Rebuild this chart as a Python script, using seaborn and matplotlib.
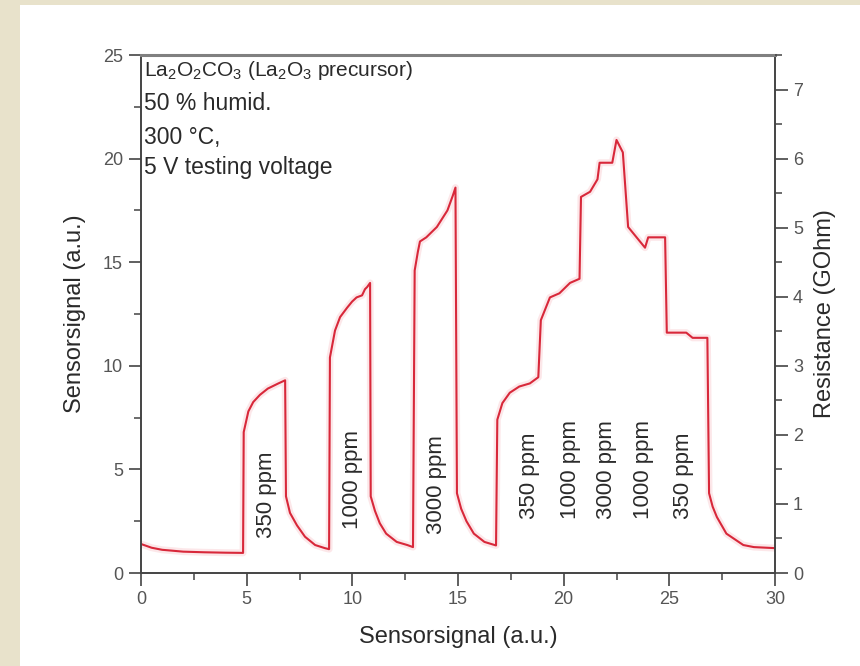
import matplotlib
matplotlib.use("Agg")
import matplotlib.pyplot as plt
from matplotlib.ticker import MultipleLocator
import seaborn as sns
import pandas as pd

# ---- data ----
time_x = [0, 0.5, 1.0, 2.0, 3.0, 4.0, 4.83,
          4.86, 5.08, 5.31, 5.63, 6.0, 6.5, 6.82,
          6.86, 7.05, 7.38, 7.76, 8.24, 8.7, 8.9,
          8.94, 9.18, 9.42, 9.75, 9.99, 10.2, 10.46, 10.6, 10.7, 10.84,
          10.87, 11.07, 11.3, 11.6, 12.1, 12.6, 12.87,
          12.95, 13.1, 13.2, 13.5, 14.0, 14.5, 14.75, 14.88,
          14.95, 15.15, 15.4, 15.75, 16.25, 16.8,
          16.86, 17.1, 17.45, 17.9, 18.4, 18.8,
          18.92, 19.35, 19.8, 20.3, 20.75,
          20.82, 21.25, 21.6, 21.7, 22.3, 22.5, 22.8,
          23.05, 23.45, 23.85, 24.0, 24.8,
          24.88, 25.8, 26.1, 26.8,
          26.88, 27.05, 27.25, 27.7, 28.5, 29.0, 30.0]
signal_y = [1.4, 1.22, 1.12, 1.03, 1.0, 0.98, 0.97,
            6.8, 7.8, 8.25, 8.6, 8.9, 9.15, 9.3,
            3.7, 2.9, 2.3, 1.75, 1.35, 1.2, 1.15,
            10.4, 11.7, 12.35, 12.8, 13.1, 13.3, 13.4, 13.7, 13.8, 14.0,
            3.7, 3.0, 2.4, 1.9, 1.5, 1.35, 1.25,
            14.6, 15.5, 16.0, 16.2, 16.7, 17.5, 18.2, 18.6,
            3.85, 3.1, 2.5, 1.9, 1.5, 1.33,
            7.4, 8.2, 8.7, 9.0, 9.15, 9.45,
            12.2, 13.3, 13.5, 14.0, 14.2,
            18.15, 18.4, 19.0, 19.8, 19.8, 20.9, 20.3,
            16.7, 16.2, 15.7, 16.2, 16.2,
            11.6, 11.6, 11.35, 11.35,
            3.85, 3.2, 2.7, 1.9, 1.35, 1.25, 1.2]

label_x = [5.96, 10.0, 14.0, 18.4, 20.3, 22.05, 23.8, 25.65]
label_y = [1.7, 2.1, 1.9, 2.6, 2.6, 2.6, 2.6, 2.6]
label_text = ["350 ppm", "1000 ppm", "3000 ppm", "350 ppm",
              "1000 ppm", "3000 ppm", "1000 ppm", "350 ppm"]

header_lines = [r"La$_2$O$_2$CO$_3$ (La$_2$O$_3$ precursor)",
                "50 % humid.", "300 °C,", "5 V testing voltage"]

x_ticks = [0, 5, 10, 15, 20, 25, 30]
y_ticks = [0, 5, 10, 15, 20, 25]
r_ticks = [0, 1, 2, 3, 4, 5, 6, 7]

# ---- style ----
sns.set_style("ticks")
plt.rcParams['font.family'] = ['Liberation Sans', 'DejaVu Sans']
plt.rcParams['mathtext.fontset'] = 'custom'
plt.rcParams['mathtext.rm'] = 'Liberation Sans'
plt.rcParams['mathtext.it'] = 'Liberation Sans'

txt = '#2a2a2a'
tick_c = '#555555'
spine_c = '#444444'
line_c = '#d8283a'

fig = plt.figure(figsize=(8.6, 6.66), dpi=100)
fig.patch.set_facecolor('#e8e2cb')

bg = fig.add_axes([20 / 860, 0, 1 - 20 / 860, 1 - 5 / 666], zorder=-5)
bg.set_facecolor('white')
bg.set_xticks([]); bg.set_yticks([])
for s in bg.spines.values():
    s.set_visible(False)

ax = fig.add_axes([141 / 860, 1 - 573 / 666, (775 - 141) / 860, (573 - 55) / 666], zorder=1)
ax.set_facecolor('none')

df = pd.DataFrame({"x": time_x, "y": signal_y})
sns.lineplot(data=df, x="x", y="y", ax=ax, color='#f4a0a8', lw=5, alpha=0.25,
             sort=False, estimator=None)
sns.lineplot(data=df, x="x", y="y", ax=ax, color=line_c, lw=1.5,
             sort=False, estimator=None)

ax.set_xlim(0, 30)
ax.set_ylim(0, 25)
ax.set_xticks(x_ticks)
ax.set_yticks(y_ticks)
ax.xaxis.set_minor_locator(MultipleLocator(2.5))
ax.yaxis.set_minor_locator(MultipleLocator(2.5))
ax.tick_params(axis='both', which='major', length=9, width=1.2, color=spine_c,
               labelsize=13, labelcolor=tick_c, direction='out', pad=4)
ax.tick_params(axis='both', which='minor', length=5, width=1.1, color=spine_c,
               direction='out')

for s in ['left', 'bottom']:
    ax.spines[s].set_color(spine_c)
    ax.spines[s].set_linewidth(1.4)
ax.spines['top'].set_color('#808080')
ax.spines['top'].set_linewidth(2.2)
ax.spines['right'].set_color(spine_c)
ax.spines['right'].set_linewidth(1.4)

ax.set_xlabel("Sensorsignal (a.u.)", fontsize=17, color=txt, labelpad=13)
ax.set_ylabel("Sensorsignal (a.u.)", fontsize=17, color=txt, labelpad=12)

ax2 = ax.twinx()
ax2.set_ylim(0, 7.5)
ax2.set_yticks(r_ticks)
ax2.yaxis.set_minor_locator(MultipleLocator(0.5))
ax2.tick_params(axis='y', which='major', length=9, width=1.2, color=spine_c,
                labelsize=13, labelcolor=tick_c, direction='out', pad=4)
ax2.tick_params(axis='y', which='minor', length=5, width=1.1, color=spine_c,
                direction='out')
for s in ax2.spines.values():
    s.set_visible(False)
ax2.set_ylabel("Resistance (GOhm)", fontsize=17, color=txt, labelpad=8)

for lx, ly, lt in zip(label_x, label_y, label_text):
    ax.text(lx, ly, lt, rotation=90, ha='center', va='bottom',
            fontsize=16, color=txt)

header_y = [24.25, 22.65, 21.0, 19.55]
header_size = [15, 16.5, 16.5, 16.5]
for hy, ht, hs in zip(header_y, header_lines, header_size):
    ax.text(0.15, hy, ht, ha='left', va='center', fontsize=hs, color=txt)

fig.savefig("out.png", dpi=100, facecolor=fig.get_facecolor())
